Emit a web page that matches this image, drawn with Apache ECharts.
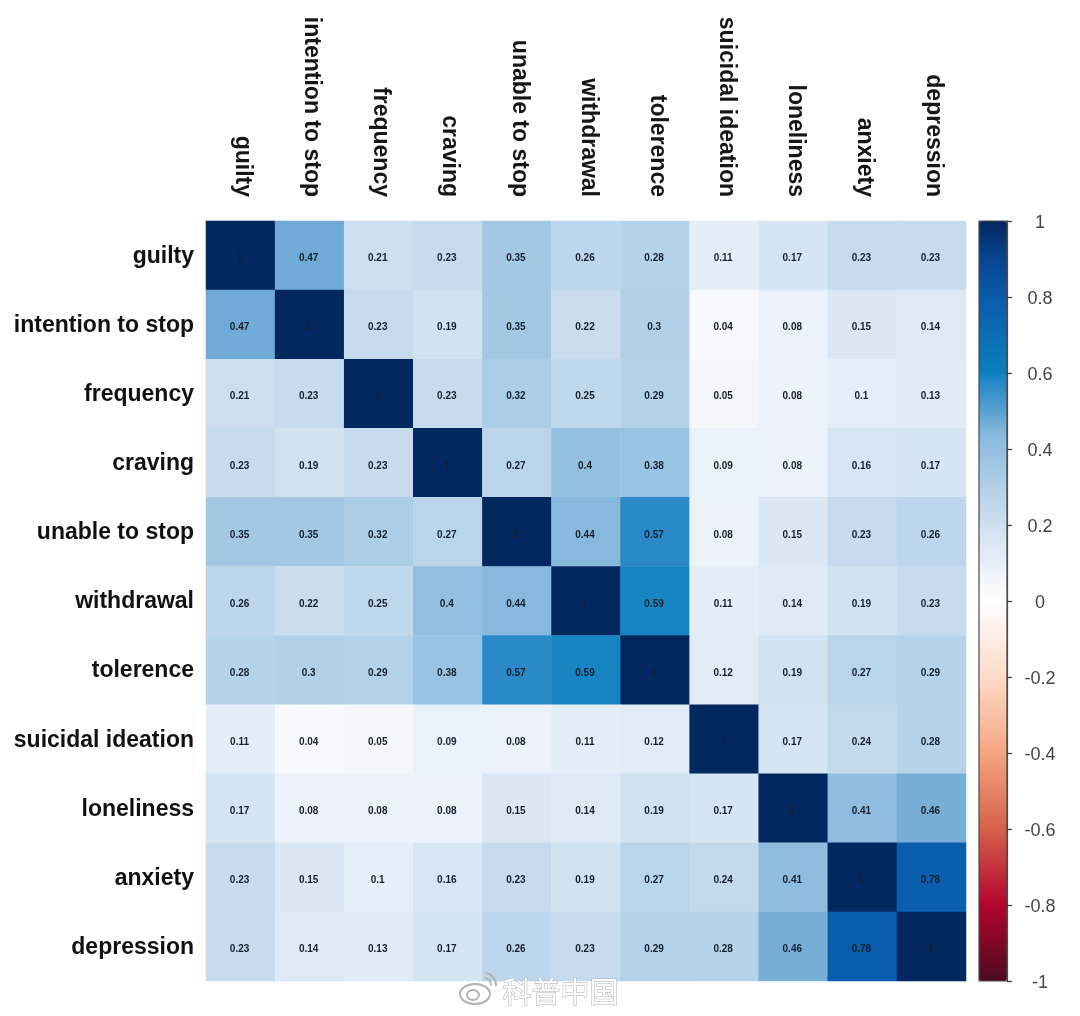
<!DOCTYPE html>
<html><head><meta charset="utf-8">
<style>html,body{margin:0;padding:0;background:#fff}#c{width:1080px;height:1016px}</style>
<script src="https://cdn.jsdelivr.net/npm/echarts@6/dist/echarts.min.js"></script>
</head><body><div id="c"></div>
<script>
const variables = ['guilty','intention to stop','frequency','craving','unable to stop','withdrawal','tolerence','suicidal ideation','loneliness','anxiety','depression'];
const guilty = [1,0.47,0.21,0.23,0.35,0.26,0.28,0.11,0.17,0.23,0.23];
const intentionToStop = [0.47,1,0.23,0.19,0.35,0.22,0.3,0.04,0.08,0.15,0.14];
const frequency = [0.21,0.23,1,0.23,0.32,0.25,0.29,0.05,0.08,0.1,0.13];
const craving = [0.23,0.19,0.23,1,0.27,0.4,0.38,0.09,0.08,0.16,0.17];
const unableToStop = [0.35,0.35,0.32,0.27,1,0.44,0.57,0.08,0.15,0.23,0.26];
const withdrawal = [0.26,0.22,0.25,0.4,0.44,1,0.59,0.11,0.14,0.19,0.23];
const tolerence = [0.28,0.3,0.29,0.38,0.57,0.59,1,0.12,0.19,0.27,0.29];
const suicidalIdeation = [0.11,0.04,0.05,0.09,0.08,0.11,0.12,1,0.17,0.24,0.28];
const loneliness = [0.17,0.08,0.08,0.08,0.15,0.14,0.19,0.17,1,0.41,0.46];
const anxiety = [0.23,0.15,0.1,0.16,0.23,0.19,0.27,0.24,0.41,1,0.78];
const depression = [0.23,0.14,0.13,0.17,0.26,0.23,0.29,0.28,0.46,0.78,1];
const matrix = [guilty,intentionToStop,frequency,craving,unableToStop,withdrawal,tolerence,suicidalIdeation,loneliness,anxiety,depression];
const colorStopValues = [-1,-0.8,-0.6,-0.4,-0.2,0,0.04,0.1,0.2,0.35,0.44,0.47,0.57,0.585,0.6,0.78,0.9,1];
const colorStopHex = ['#4D0A1E','#B2052C','#D6604D','#F4A582','#FDDBC7','#FFFFFF','#F6F9FD','#E6EFF8','#CFE0F0','#A2C8E4','#87B8DD','#6FABD6','#2A8AC8','#1F87C6','#0A80BE','#0B5EAE','#074690','#03275F'];

function rgb(h){return [1,3,5].map(i=>parseInt(h.slice(i,i+2),16));}
const ramp = [];
for(let k=0;k<=200;k++){
  const v=-1+k/100;
  let i=0; while(i<colorStopValues.length-2 && v>colorStopValues[i+1]) i++;
  const t=Math.min(1,Math.max(0,(v-colorStopValues[i])/(colorStopValues[i+1]-colorStopValues[i])));
  const a=rgb(colorStopHex[i]),b=rgb(colorStopHex[i+1]);
  ramp.push('rgb('+a.map((c,j)=>Math.round(c+(b[j]-c)*t)).join(',')+')');
}
const cells=[];
matrix.forEach((row,r)=>row.forEach((v,c)=>cells.push([c,r,v])));
const FONT='"Liberation Sans",Arial,sans-serif';
const chart=echarts.init(document.getElementById('c'),null,{renderer:'canvas'});
chart.setOption({
  animation:false,
  backgroundColor:'#fff',
  grid:[
    {left:206,top:221,width:760,height:760,outerBoundsMode:'none'},
    {left:979,top:221,width:28,height:760,show:true,backgroundColor:'transparent',borderColor:'#4a4a4a',borderWidth:1.2,z:10,outerBoundsMode:'none'}
  ],
  xAxis:[
    {type:'category',gridIndex:0,position:'top',data:variables,axisLine:{show:false},axisTick:{show:false},splitLine:{show:false},
     axisLabel:{rotate:90,interval:0,margin:24,overflow:'none',formatter:v=>'{a|'+v+'}',
       rich:{a:{fontFamily:FONT,fontSize:23,fontWeight:'bold',color:'#161616',padding:[0,0,4,0]}}}},
    {type:'category',gridIndex:1,data:['scale'],show:false}
  ],
  yAxis:[
    {type:'category',gridIndex:0,inverse:true,data:variables,axisLine:{show:false},axisTick:{show:false},splitLine:{show:false},
     axisLabel:{interval:0,margin:12,formatter:v=>'{a|'+v+'}',
       rich:{a:{fontFamily:FONT,fontSize:23,fontWeight:'bold',color:'#111',padding:[2,0,0,0]}}}},
    {type:'value',gridIndex:1,position:'right',min:-1,max:1,interval:0.2,z:10,splitLine:{show:false},
     axisLine:{show:true,lineStyle:{color:'#4a4a4a',width:1.2}},
     axisTick:{show:true,length:5,lineStyle:{color:'#333',width:1.2}},
     axisLabel:{margin:33,align:'center',showMinLabel:true,showMaxLabel:true,formatter:v=>'{a|'+v+'}',
       rich:{a:{fontFamily:FONT,fontSize:18,color:'#444',padding:[5,0,0,0]}}}}
  ],
  visualMap:{type:'continuous',min:-1,max:1,seriesIndex:0,calculable:false,hoverLink:false,left:979,top:221,itemWidth:28,itemHeight:760,padding:0,text:['',''],showLabel:false,inRange:{color:ramp}},
  series:[{type:'heatmap',xAxisIndex:0,yAxisIndex:0,data:cells,silent:true,
    label:{show:true,offset:[-1,3],fontFamily:FONT,fontSize:10,fontWeight:'bold',color:'#15202e',formatter:p=>String(p.value[2])},
    itemStyle:{borderWidth:0}}],
  graphic:[
    {type:'text',z:100,left:502,top:977,style:{text:'科普中国',font:'29px "Noto Sans CJK SC"',fill:'rgba(255,255,255,0.9)',stroke:'#b4b4b4',lineWidth:1}},
    {type:'ellipse',z:100,shape:{cx:475,cy:994,rx:15,ry:10},style:{fill:'rgba(255,255,255,0.9)',stroke:'#b4b4b4',lineWidth:2}},
    {type:'ellipse',z:100,shape:{cx:473,cy:995,rx:6,ry:5},style:{fill:'rgba(255,255,255,0.9)',stroke:'#b4b4b4',lineWidth:2}},
    {type:'arc',z:100,shape:{cx:484,cy:985,r:7,startAngle:-1.5,endAngle:0.1},style:{fill:'none',stroke:'#b4b4b4',lineWidth:2}},
    {type:'arc',z:100,shape:{cx:484,cy:985,r:12,startAngle:-1.5,endAngle:0.1},style:{fill:'none',stroke:'#b4b4b4',lineWidth:2}}
  ]
});
</script></body></html>
